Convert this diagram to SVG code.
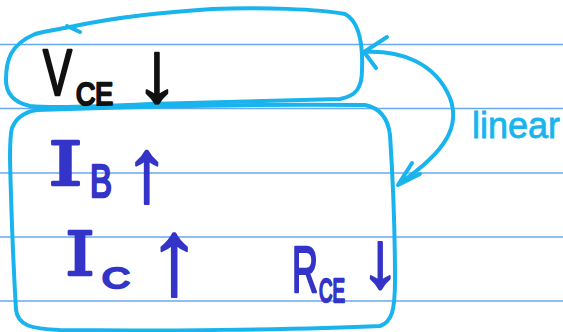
<svg xmlns="http://www.w3.org/2000/svg" width="563" height="332" viewBox="0 0 563 332">
<style>
.rule{stroke:#6aa8f0;stroke-width:1.5;fill:none}
.ink{fill:none;stroke:#19b4ee;stroke-width:4;stroke-linecap:round;stroke-linejoin:round}
.blk{fill:#111;stroke:#111;stroke-width:2.5;stroke-linejoin:round;font-family:"Liberation Sans",Arial,sans-serif}
.blu{fill:#3434c8;stroke:#3434c8;stroke-width:2.5;stroke-linejoin:round;font-family:"Liberation Sans",Arial,sans-serif}
.arr{stroke-width:2}
.ser{font-family:"DejaVu Serif",serif}
.lbl{fill:#19b4ee;stroke:#19b4ee;stroke-width:0.8;font-family:"Liberation Sans",Arial,sans-serif;font-size:37px}
</style>
<rect width="563" height="332" fill="#ffffff"/>
<g id="rules">
<line class="rule" x1="0" y1="44.5" x2="563" y2="44.5"/>
<line class="rule" x1="0" y1="108.5" x2="563" y2="108.5"/>
<line class="rule" x1="0" y1="173" x2="563" y2="173"/>
<line class="rule" x1="0" y1="237" x2="563" y2="237"/>
<line class="rule" x1="0" y1="301" x2="563" y2="301"/>
</g>
<g id="box-vce">
<path class="ink" d="M80,32 L67,26 M70,27 C120,16 170,12 212,9 C260,7 320,9 345,14 C360,22 363,45 362,70 C362,88 356,96 340,99 C260,101 200,103 150,104 C90,107 50,108 30,106 C12,102 6,92 6,80 C6,60 10,45 35,34 C45,31 60,29 70,27"/>
<text class="blk" font-size="65"><tspan x="43" y="95" textLength="29" lengthAdjust="spacingAndGlyphs">V</tspan><tspan x="76" y="105" font-size="31" textLength="37" lengthAdjust="spacingAndGlyphs">CE</tspan><tspan class="arr" x="135" y="102" font-size="88">↓</tspan></text>
</g>
<g id="box-currents">
<path class="ink" d="M12,128 C16,118 24,112 37,110 C120,107 250,104 365,105 C380,108 388,118 390,135 C393,180 395,230 395,280 C395,310 392,322 380,326 C300,330 150,331 60,330 C30,329 18,325 16,310 C13,260 11,200 10,160 C10,145 10,135 12,128"/>
<text class="blu" font-size="60"><tspan class="ser" x="48" y="185" textLength="35" lengthAdjust="spacingAndGlyphs">I</tspan><tspan x="90" y="197" font-size="46" textLength="22" lengthAdjust="spacingAndGlyphs">B</tspan><tspan class="arr" x="124" y="201" font-size="90">↑</tspan></text>
<text class="blu" font-size="60"><tspan class="ser" x="65" y="275" textLength="30" lengthAdjust="spacingAndGlyphs">I</tspan><tspan x="102" y="288" font-size="30" textLength="28" lengthAdjust="spacingAndGlyphs">C</tspan><tspan class="arr" x="147" y="294" font-size="108">↑</tspan></text>
<text class="blu" font-size="65"><tspan x="292" y="292" textLength="26" lengthAdjust="spacingAndGlyphs">R</tspan><tspan x="319" y="302" font-size="33" textLength="26" lengthAdjust="spacingAndGlyphs">CE</tspan><tspan class="arr" x="360" y="287" font-size="80">↓</tspan></text>
</g>
<g id="connectors">
<path class="ink" d="M363,52 C400,50 435,62 450,98 C460,125 448,150 400,183"/>
<path class="ink" d="M387,37 L364,52 L376,68"/>
<path class="ink" d="M412,163 L398,185 L420,174"/>
<text class="lbl" x="472" y="138" textLength="88" lengthAdjust="spacingAndGlyphs">linear</text>
</g>
</svg>
